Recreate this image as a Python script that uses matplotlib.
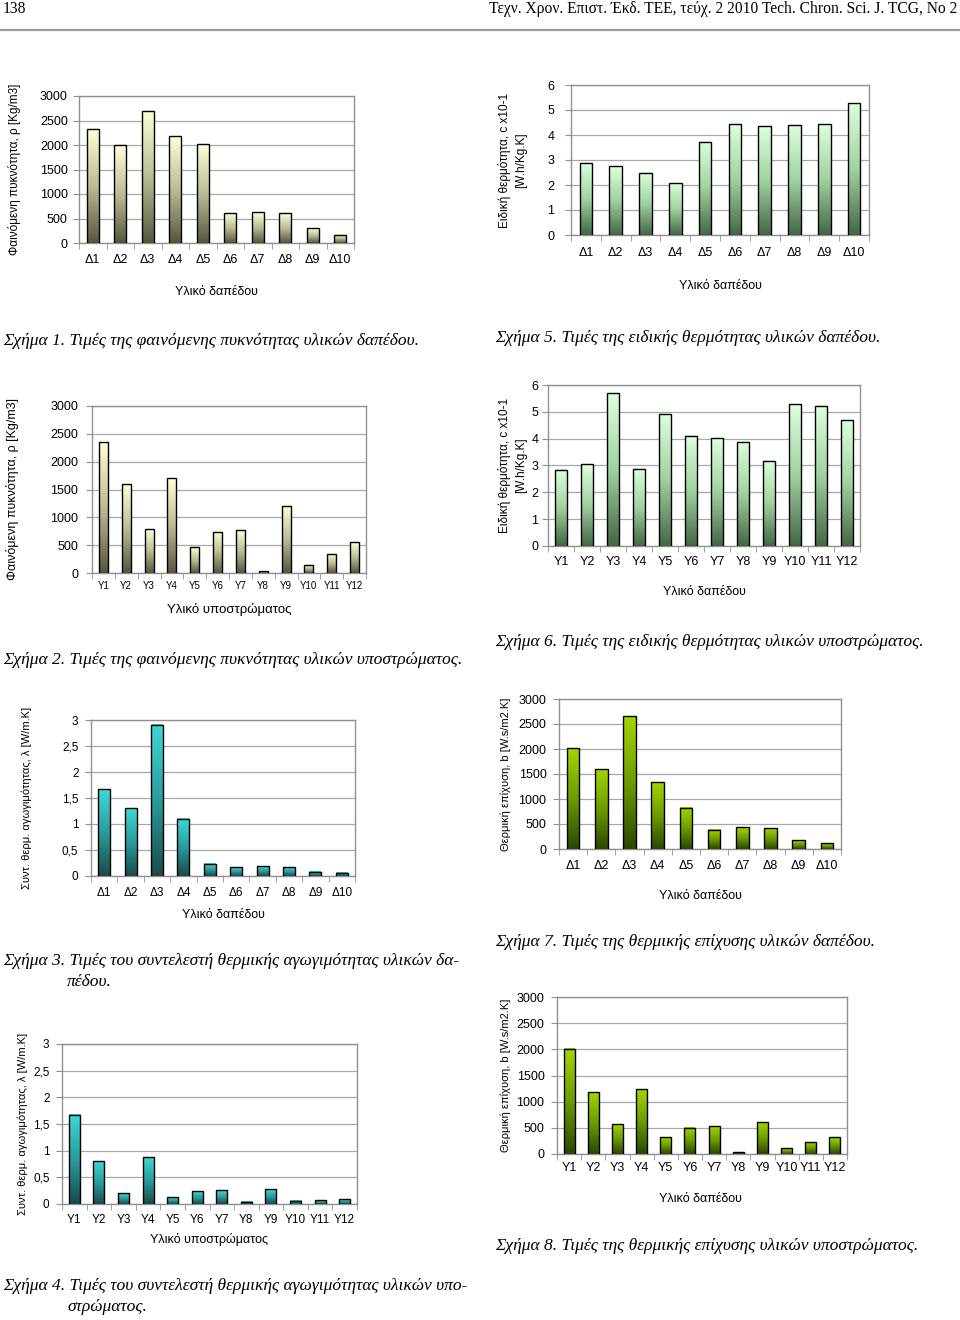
import numpy as np
import matplotlib
matplotlib.use("Agg")
import matplotlib.pyplot as plt
from matplotlib.colors import LinearSegmentedColormap
from matplotlib.ticker import FuncFormatter, MultipleLocator

# categories
floor_cats = ["Δ1", "Δ2", "Δ3", "Δ4", "Δ5", "Δ6", "Δ7", "Δ8", "Δ9", "Δ10"]
sub_cats = ["Y1", "Y2", "Y3", "Y4", "Y5", "Y6", "Y7", "Y8", "Y9", "Y10", "Y11", "Y12"]

# values
density_floor = [2335, 2000, 2700, 2180, 2020, 610, 630, 610, 300, 165]
density_sub = [2350, 1590, 790, 1700, 460, 740, 775, 35, 1205, 150, 350, 555]
cond_floor = [1.67, 1.30, 2.91, 1.10, 0.24, 0.17, 0.19, 0.17, 0.08, 0.06]
cond_sub = [1.67, 0.80, 0.20, 0.875, 0.13, 0.24, 0.26, 0.04, 0.275, 0.06, 0.075, 0.09]
heat_floor = [2.87, 2.75, 2.49, 2.08, 3.73, 4.44, 4.35, 4.39, 4.44, 5.27]
heat_sub = [2.85, 3.05, 5.69, 2.88, 4.92, 4.10, 4.02, 3.89, 3.18, 5.29, 5.22, 4.69]
eff_floor = [2013, 1600, 2655, 1333, 827, 387, 433, 413, 180, 113]
eff_sub = [2008, 1182, 572, 1239, 318, 502, 534, 38, 610, 108, 222, 318]

W, H = 960, 1320
SANS = "Liberation Sans"
SERIF = "Liberation Serif"
CAP_FS = 12.6

cm_dens = LinearSegmentedColormap.from_list("dens", ["#56563f", "#bcbc94", "#ffffd8"])
cm_heat = LinearSegmentedColormap.from_list("heat", ["#456645", "#a0d2a0", "#ddffdd"])
cm_cond = LinearSegmentedColormap.from_list("cond", ["#1b4a4a", "#2a9c9c", "#40d8d8"])
cm_eff = LinearSegmentedColormap.from_list("eff", ["#2c4500", "#6c9c00", "#a6d400"])

fig = plt.figure(figsize=(W / 100, H / 100), dpi=100)


def fx(x):
    return x / W


def fy(y):
    return 1 - y / H


def comma(v, pos):
    s = ("%g" % v)
    return s.replace(".", ",")


def chart(box, cats, vals, ymax, step, cmap, ylabel, xlabel, xlab_pos, ylab_x,
          tick_fs=9, xtick_fs=9, xpad=6, ypad=4, ylab_fs=8.5, xlab_fs=9,
          width=0.45, fmt=None):
    x0, y0, x1, y1 = box
    ax = fig.add_axes([fx(x0), fy(y1), fx(x1 - x0), (y1 - y0) / H])
    n = len(cats)
    xs = np.arange(n)
    bars = ax.bar(xs, vals, width=width, facecolor="none", edgecolor="black",
                  linewidth=1.0, zorder=3)
    grad = np.linspace(0, 1, 256).reshape(-1, 1)
    for b in bars:
        ax.imshow(grad, extent=[b.get_x(), b.get_x() + b.get_width(), 0, b.get_height()],
                  origin="lower", aspect="auto", cmap=cmap, zorder=2,
                  interpolation="bilinear")
    ax.set_xlim(-0.5, n - 0.5)
    ax.set_ylim(0, ymax)
    ax.yaxis.set_major_locator(MultipleLocator(step))
    if fmt:
        ax.yaxis.set_major_formatter(FuncFormatter(fmt))
    ax.grid(axis="y", color="#a8a8a8", linewidth=0.9, zorder=0)
    ax.set_axisbelow(True)
    for sp in ax.spines.values():
        sp.set_color("#909090")
        sp.set_linewidth(1.0)
    ax.set_xticks(xs)
    ax.set_xticklabels(cats, fontsize=xtick_fs, family=SANS)
    ax.set_xticks(np.arange(n + 1) - 0.5, minor=True)
    ax.tick_params(axis="x", which="major", length=0, pad=xpad)
    ax.tick_params(axis="x", which="minor", length=4, color="#909090", direction="out")
    ax.tick_params(axis="y", length=4, color="#909090", pad=ypad, labelsize=tick_fs)
    for t in ax.get_yticklabels():
        t.set_family(SANS)
    fig.text(fx(xlab_pos[0]), fy(xlab_pos[1]), xlabel, ha="center", va="center",
             fontsize=xlab_fs, family=SANS)
    cy = (y0 + y1) / 2
    if isinstance(ylabel, str):
        fig.text(fx(ylab_x), fy(cy), ylabel, rotation=90, ha="center", va="center",
                 fontsize=ylab_fs, family=SANS)
    else:
        for k, line in enumerate(ylabel):
            fig.text(fx(ylab_x + 16 * k), fy(cy), line, rotation=90, ha="center",
                     va="center", fontsize=ylab_fs, family=SANS)
    return ax


def caption(x, y, text, x2=None, y2=None, text2=None):
    fig.text(fx(x), fy(y), text, ha="left", va="center", fontsize=CAP_FS,
             family=SERIF, style="italic")
    if text2:
        fig.text(fx(x2), fy(y2), text2, ha="left", va="center", fontsize=CAP_FS,
                 family=SERIF, style="italic")


# header
fig.text(fx(3), fy(9), "138", ha="left", va="center", fontsize=11.2, family=SERIF)
fig.text(fx(957), fy(9), "Τεχν. Χρον. Επιστ. Έκδ. ΤΕΕ, τεύχ. 2 2010 Tech. Chron. Sci. J. TCG, No 2",
         ha="right", va="center", fontsize=11.2, family=SERIF)
fig.add_artist(plt.Line2D([0, 1], [fy(30), fy(30)], color="#999999", linewidth=1.6))

ylab_dens = "Φαινόμενη πυκνότητα, ρ [Kg/m3]"
ylab_heat = ["Ειδική θερμότητα, c x10-1", "[W.h/Kg.K]"]
ylab_cond = "Συντ. θερμ. αγωγιμότητας, λ [W/m.K]"
ylab_eff = "Θερμική επίχυση, b [W.s/m2.K]"

# Fig 1
chart((79, 96, 354, 243), floor_cats, density_floor, 3000, 500, cm_dens,
      ylab_dens, "Υλικό δαπέδου", (216, 292), 15, xpad=8, ypad=4)
caption(3, 341, "Σχήμα 1. Τιμές της φαινόμενης πυκνότητας υλικών δαπέδου.")

# Fig 5
chart((571, 85, 869, 235), floor_cats, heat_floor, 6, 1, cm_heat,
      ylab_heat, "Υλικό δαπέδου", (720, 286), 505, xpad=9, ypad=8, ylab_fs=8.5,
      width=0.42)
caption(495, 338, "Σχήμα 5. Τιμές της ειδικής θερμότητας υλικών δαπέδου.")

# Fig 2
chart((92, 406, 366, 573), sub_cats, density_sub, 3000, 500, cm_dens,
      ylab_dens, "Υλικό υποστρώματος", (229, 609), 13, xtick_fs=7, xpad=6,
      ypad=6, ylab_fs=9, xlab_fs=9.5, width=0.4)
caption(3, 660, "Σχήμα 2. Τιμές της φαινόμενης πυκνότητας υλικών υποστρώματος.")

# Fig 6
chart((548, 385, 860, 546), sub_cats, heat_sub, 6, 1, cm_heat,
      ylab_heat, "Υλικό δαπέδου", (704, 592), 505, xpad=7, ypad=3, ylab_fs=8.5,
      width=0.45)
caption(495, 642, "Σχήμα 6. Τιμές της ειδικής θερμότητας υλικών υποστρώματος.")

# Fig 3
chart((91, 720, 355, 876), floor_cats, cond_floor, 3, 0.5, cm_cond,
      ylab_cond, "Υλικό δαπέδου", (223, 915), 27, tick_fs=8.5, xtick_fs=8.5,
      xpad=8, ypad=5, ylab_fs=8, fmt=comma)
caption(3, 961, "Σχήμα 3. Τιμές του συντελεστή θερμικής αγωγιμότητας υλικών δα-",
        67, 982, "πέδου.")

# Fig 7
chart((559, 699, 841, 849), floor_cats, eff_floor, 3000, 500, cm_eff,
      ylab_eff, "Υλικό δαπέδου", (700, 896), 506, xpad=8, ypad=5, ylab_fs=8)
caption(495, 942, "Σχήμα 7. Τιμές της θερμικής επίχυσης υλικών δαπέδου.")

# Fig 4
chart((62, 1044, 357, 1204), sub_cats, cond_sub, 3, 0.5, cm_cond,
      ylab_cond, "Υλικό υποστρώματος", (209, 1240), 23, tick_fs=8.5, xtick_fs=8.5,
      xpad=7, ypad=5, ylab_fs=8, fmt=comma)
caption(3, 1286, "Σχήμα 4. Τιμές του συντελεστή θερμικής αγωγιμότητας υλικών υπο-",
        67, 1307, "στρώματος.")

# Fig 8
chart((557, 997, 847, 1154), sub_cats, eff_sub, 3000, 500, cm_eff,
      ylab_eff, "Υλικό δαπέδου", (700, 1199), 506, xpad=6, ypad=5, ylab_fs=8)
caption(495, 1246, "Σχήμα 8. Τιμές της θερμικής επίχυσης υλικών υποστρώματος.")

fig.savefig("out.png", dpi=100)
